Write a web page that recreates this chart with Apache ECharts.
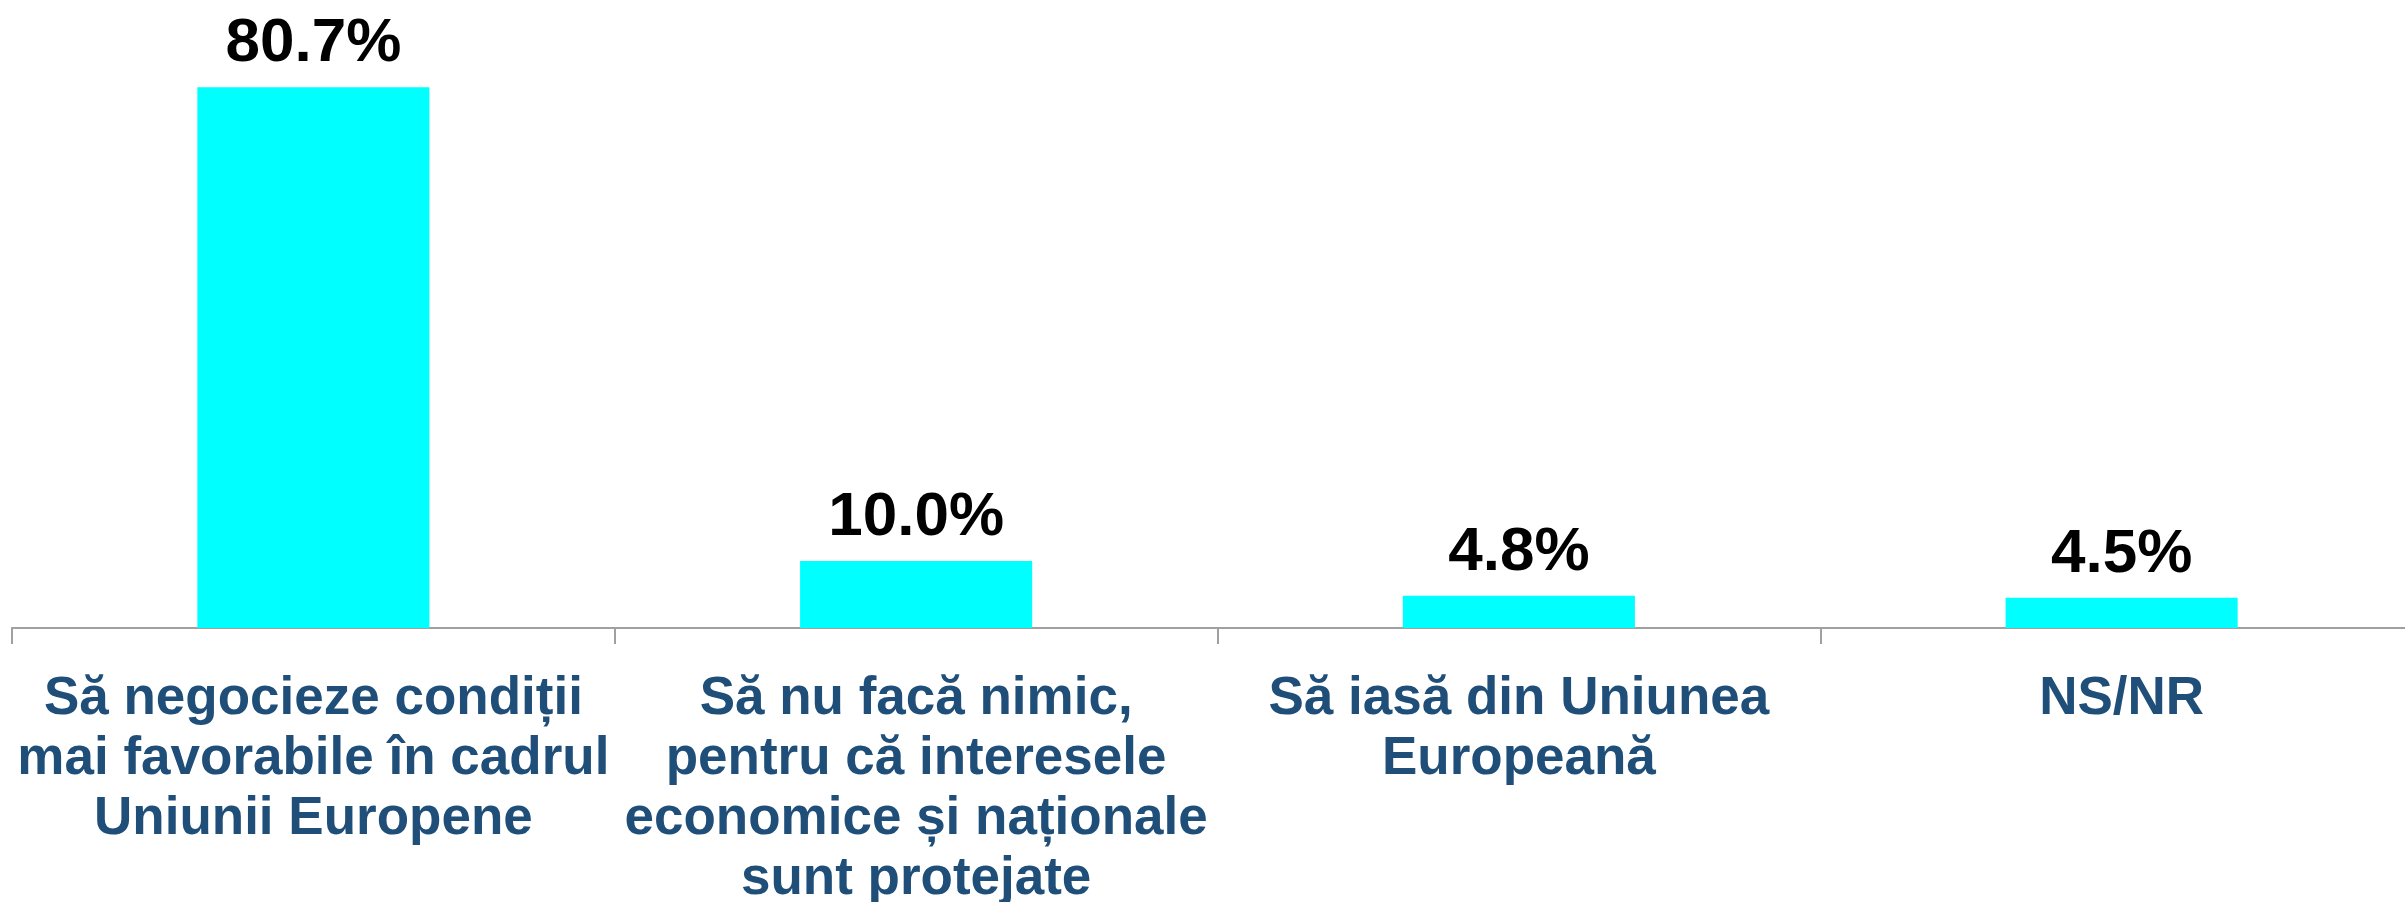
<!DOCTYPE html>
<html>
<head>
<meta charset="utf-8">
<script src="https://cdn.jsdelivr.net/npm/echarts@6/dist/echarts.min.js"></script>
<style>
  html, body { margin: 0; padding: 0; background: #fff; }
  #chart { width: 2405px; height: 902px; }
</style>
</head>
<body>
<div id="chart"></div>
<script>
// categorii (etichete pe axa X)
const categories = [
  'Să negocieze condiții\nmai favorabile în cadrul\nUniunii Europene',
  'Să nu facă nimic,\npentru că interesele\neconomice și naționale\nsunt protejate',
  'Să iasă din Uniunea\nEuropeană',
  'NS/NR'
];
// procente
const values = [80.7, 10.0, 4.8, 4.5];

const chart = echarts.init(document.getElementById('chart'));

chart.setOption({
  animation: false,
  grid: { left: 12, right: -18, top: 25, bottom: 274, outerBoundsMode: 'none', containLabel: false },
  xAxis: {
    type: 'category',
    data: categories,
    axisLine: { lineStyle: { color: '#a0a0a0', width: 2 } },
    axisTick: { show: true, interval: 0, length: 16, lineStyle: { color: '#a0a0a0', width: 2 } },
    axisLabel: {
      interval: 0,
      margin: 41,
      color: '#1F4E79',
      fontFamily: 'Liberation Sans, Arial, sans-serif',
      fontWeight: 'bold',
      fontSize: 53,
      lineHeight: 60
    }
  },
  yAxis: {
    type: 'value',
    min: 0,
    max: 90,
    show: false
  },
  series: [{
    type: 'bar',
    data: values,
    barWidth: '38.5%',
    itemStyle: { color: '#00FFFF' },
    label: {
      show: true,
      position: 'top',
      distance: 12,
      color: '#000',
      fontFamily: 'Liberation Sans, Arial, sans-serif',
      fontWeight: 'bold',
      fontSize: 62,
      formatter: p => p.value.toFixed(1) + '%'
    }
  }]
});

window.addEventListener('resize', () => chart.resize());
</script>
</body>
</html>
